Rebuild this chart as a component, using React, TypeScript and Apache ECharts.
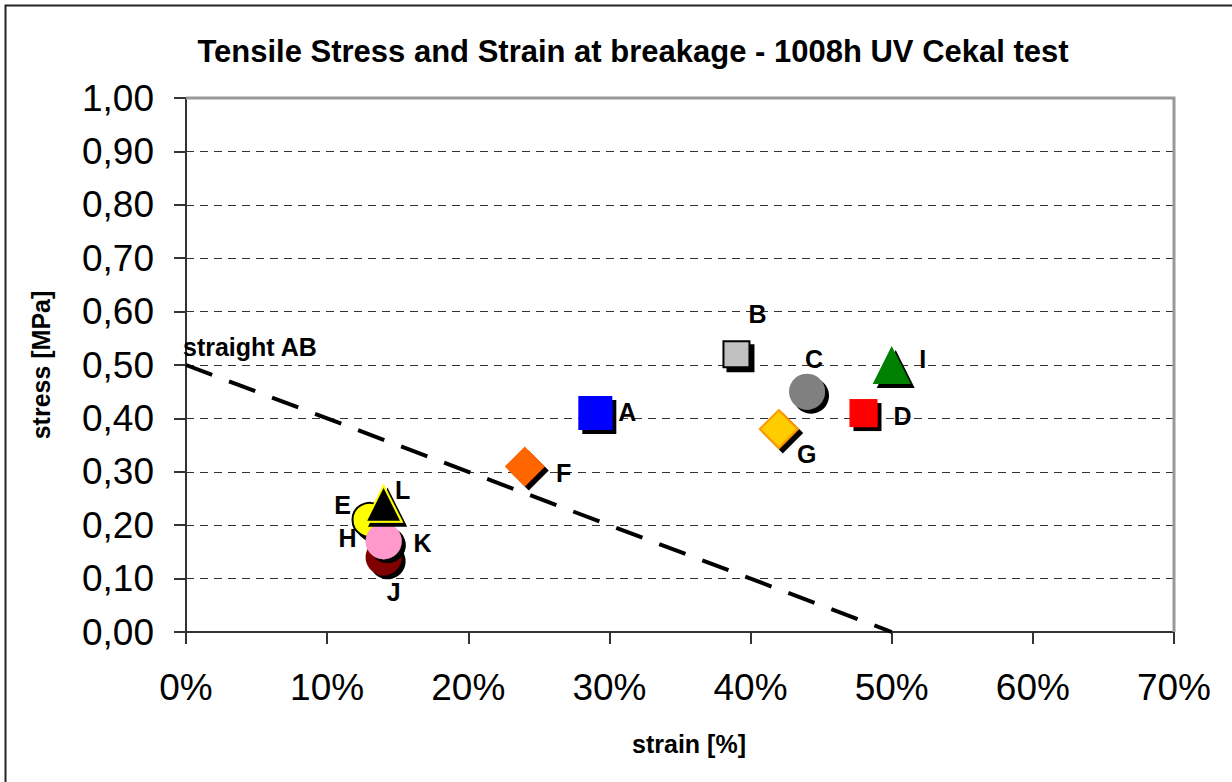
import React, { useEffect, useRef } from "react";
import * as echarts from "echarts";

const names = ["H", "E", "J", "K", "L", "A", "B", "C", "D", "F", "G", "I"];
const strain = [0.14, 0.13, 0.14, 0.14, 0.14, 0.29, 0.39, 0.44, 0.48, 0.24, 0.42, 0.5];
const stress = [0.17, 0.21, 0.14, 0.17, 0.24, 0.41, 0.52, 0.45, 0.41, 0.31, 0.38, 0.5];
const lineAB = [
  [0, 0.5],
  [0.5, 0],
];
const xTicks = [0, 0.1, 0.2, 0.3, 0.4, 0.5, 0.6, 0.7];

// marker styles (not data)
const styles: Record<string, any> = {
  H: { symbol: "circle", size: 36, color: "#FF99CC", border: null, off: [-36, -3] },
  E: { symbol: "circle", size: 34, color: "#FFFF00", border: "#000000", off: [-27, -15] },
  J: { symbol: "circle", size: 36, color: "#800000", border: null, off: [10, 35] },
  K: { symbol: "circle", size: 36, color: "#FF99CC", border: null, off: [39, 2] },
  L: { symbol: "triangle", size: 36, color: "#000000", border: "#FFFF00", off: [19, -14] },
  A: { symbol: "rect", size: 34, color: "#0000FF", border: null, off: [32, -1] },
  B: { symbol: "rect", size: 26, color: "#C0C0C0", border: "#000000", off: [21, -40] },
  C: { symbol: "circle", size: 36, color: "#808080", border: null, off: [7, -33] },
  D: { symbol: "rect", size: 28, color: "#FF0000", border: null, off: [39, 3] },
  F: { symbol: "diamond", size: 40, color: "#FF6600", border: null, off: [39, 7] },
  G: { symbol: "diamond", size: 38, color: "#FFCC00", border: "#FF9900", off: [28, 25] },
  I: { symbol: "triangle", size: 38, color: "#008000", border: null, off: [31, -6] },
};

const FONT = "'Liberation Sans', Arial, sans-serif";

export default function App() {
  const ref = useRef<HTMLDivElement>(null);
  useEffect(() => {
    if (!ref.current) return;
    const chart = echarts.init(ref.current, undefined, { renderer: "svg" });
    const pointSeries = names.map((n, i) => {
      const s = styles[n];
      return {
        type: "scatter",
        name: n,
        symbol: s.symbol,
        symbolSize: s.size,
        z: 5 + i,
        data: [[strain[i], stress[i]]],
        itemStyle: {
          color: s.color,
          borderColor: s.border || s.color,
          borderWidth: s.border ? 2 : 0,
          shadowColor: "#000000",
          shadowBlur: 0,
          shadowOffsetX: 4,
          shadowOffsetY: 4,
          opacity: 1,
        },
        label: {
          show: true,
          formatter: n,
          position: "inside",
          align: "center",
          verticalAlign: "middle",
          offset: s.off,
          fontFamily: FONT,
          fontWeight: "bold",
          fontSize: 25,
          color: "#000000",
        },
        emphasis: { disabled: true },
      };
    });
    chart.setOption({
      animation: false,
      backgroundColor: "#ffffff",
      title: {
        text: "Tensile Stress and Strain at breakage - 1008h UV Cekal test",
        left: 628,
        textAlign: "center",
        top: 31,
        textStyle: { fontFamily: FONT, fontWeight: "bold", fontSize: 31, color: "#000" },
      },
      grid: { left: 186, right: 58, top: 98, bottom: 150, show: false },
      xAxis: {
        type: "value",
        min: 0,
        max: 0.7,
        interval: 0.1,
        name: "strain [%]",
        nameLocation: "middle",
        nameGap: 99,
        nameTextStyle: { fontFamily: FONT, fontWeight: "bold", fontSize: 25, color: "#000", padding: [0, 0, 0, 18] },
        axisLine: { show: true, lineStyle: { color: "#333", width: 2 } },
        axisTick: { show: true, length: 12, inside: false, lineStyle: { color: "#333", width: 2 } },
        axisLabel: {
          margin: 37,
          fontFamily: FONT,
          fontSize: 37,
          color: "#000",
          formatter: (v: number) => Math.round(v * 100) + "%",
        },
        splitLine: { show: false },
      },
      yAxis: {
        type: "value",
        min: 0,
        max: 1,
        interval: 0.1,
        name: "stress [MPa]",
        nameLocation: "middle",
        nameGap: 133,
        nameRotate: 90,
        nameTextStyle: { fontFamily: FONT, fontWeight: "bold", fontSize: 25, color: "#000" },
        axisLine: { show: true, lineStyle: { color: "#333", width: 2 } },
        axisTick: { show: true, length: 12, inside: false, lineStyle: { color: "#333", width: 2 } },
        axisLabel: {
          margin: 32,
          fontFamily: FONT,
          fontSize: 37,
          color: "#000",
          formatter: (v: number) => v.toFixed(2).replace(".", ","),
        },
        splitLine: { show: true, lineStyle: { color: "#333", width: 1, type: [8, 6] } },
      },
      graphic: [
        {
          type: "rect",
          shape: { x: 5.5, y: 5.5, width: 1300, height: 900 },
          style: { fill: "none", stroke: "#222", lineWidth: 2 },
          silent: true,
        },
        {
          type: "polyline",
          shape: { points: [[186, 98], [1174, 98], [1174, 632]] },
          style: { fill: "none", stroke: "#999", lineWidth: 3 },
          z: 3,
          silent: true,
        },
      ],
      series: [
        {
          type: "line",
          data: lineAB,
          symbol: "none",
          z: 3,
          lineStyle: { color: "#000", width: 4, type: [28, 18] },
          markPoint: {
            symbol: "circle",
            symbolSize: 0,
            data: [{ coord: lineAB[0] }],
            label: {
              show: true,
              formatter: "straight AB",
              position: "inside",
              align: "left",
              verticalAlign: "middle",
              offset: [-3, -18],
              fontFamily: FONT,
              fontWeight: "bold",
              fontSize: 25,
              color: "#000",
            },
          },
          emphasis: { disabled: true },
        },
        ...pointSeries,
      ],
    });
    return () => chart.dispose();
  }, []);
  return (
    <div
      ref={ref}
      style={{ position: "fixed", left: 0, top: 0, width: 1232, height: 782, background: "#fff" }}
    />
  );
}
